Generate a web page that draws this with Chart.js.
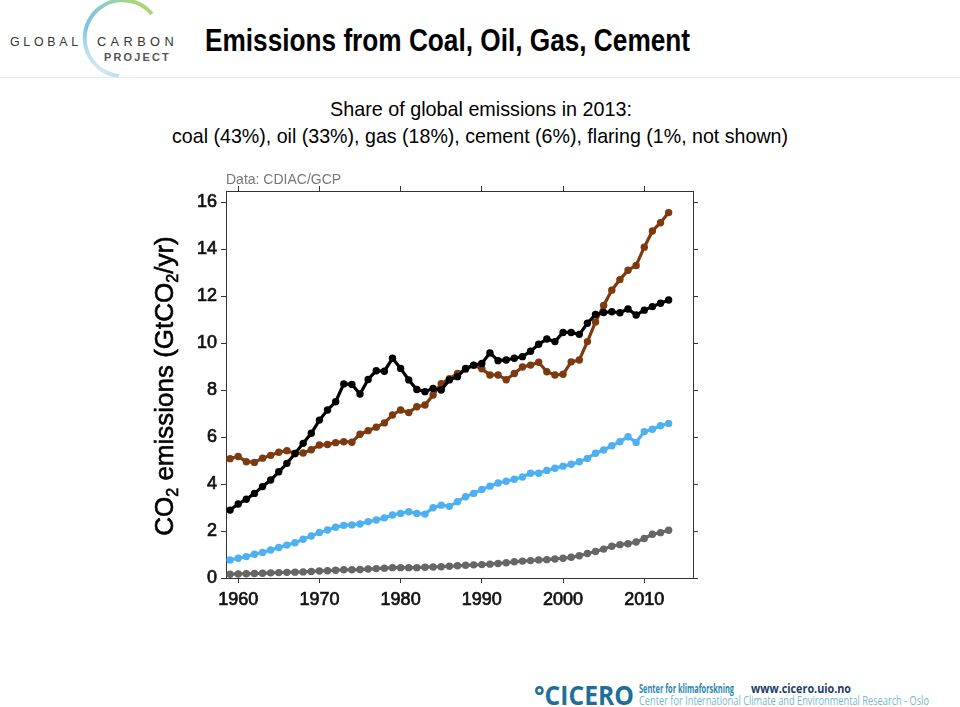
<!DOCTYPE html>
<html>
<head>
<meta charset="utf-8">
<script src="https://cdn.jsdelivr.net/npm/chart.js@4/dist/chart.umd.min.js"></script>
<style>
  html, body { margin: 0; padding: 0; background: #fff; }
  body { width: 960px; height: 707px; position: relative; overflow: hidden; font-family: "Liberation Sans", Arial, sans-serif; }
  .abs { position: absolute; white-space: nowrap; display: inline-block; transform-origin: left top; }
  #hdrLine { position: absolute; left: 0; top: 77px; width: 960px; height: 1px; background: #ececec; }
  #chartCanvas { position: absolute; left: 0; top: 150px; }
</style>
</head>
<body>

<svg class="abs" style="left:0;top:0" width="200" height="78">
  <defs>
    <linearGradient id="arcGrad" x1="1" y1="0" x2="0.3" y2="1">
      <stop offset="0" stop-color="#bcd55a"/>
      <stop offset="0.35" stop-color="#8fcfc0"/>
      <stop offset="0.7" stop-color="#7cc2e8"/>
      <stop offset="1" stop-color="#d6eaf4"/>
    </linearGradient>
  </defs>
  <path d="M152 14 A38 38 0 1 0 119 76" fill="none" stroke="url(#arcGrad)" stroke-width="4"/>
</svg>
<span class="abs" id="lgGlobal" style="left:10px;top:34px;font-size:13px;color:#333;letter-spacing:4px">GLOBAL</span>
<span class="abs" id="lgCarbon" style="left:97px;top:34px;font-size:13px;color:#333;letter-spacing:4.5px">CARBON</span>
<span class="abs" id="lgProject" style="left:104px;top:51px;font-size:11px;font-weight:bold;color:#555;letter-spacing:2.2px">PROJECT</span>

<span class="abs" id="mainTitle" style="left:205px;top:23px;font-size:31px;font-weight:bold;color:#000">Emissions from Coal, Oil, Gas, Cement</span>
<div id="hdrLine"></div>

<span class="abs" id="sub1" style="left:330px;top:97px;font-size:21px;color:#000">Share of global emissions in 2013:</span>
<span class="abs" id="sub2" style="left:172px;top:124px;font-size:21px;color:#000">coal (43%), oil (33%), gas (18%), cement (6%), flaring (1%, not shown)</span>

<canvas id="chartCanvas" width="960" height="490"></canvas>

<span class="abs" id="ftLogo" style="left:534px;top:677px;font-family:'Open Sans',sans-serif;font-size:26px;font-weight:bold;color:#1d6f98">°CICERO</span>
<span class="abs" id="ftSenter" style="left:639px;top:679px;font-family:'Open Sans',sans-serif;font-size:13px;font-weight:bold;color:#2b88b0">Senter for klimaforskning</span>
<span class="abs" id="ftWww" style="left:751px;top:679px;font-family:'Open Sans',sans-serif;font-size:13px;font-weight:bold;color:#1c3d66">www.cicero.uio.no</span>
<span class="abs" id="ftCenter" style="left:639px;top:691px;font-family:'Open Sans',sans-serif;font-size:13px;color:#74bad0">Center for International Climate and Environmental Research - Oslo</span>

<script>
// years 1959-2013, GtCO2/yr
const years = [];
for (let y = 1959; y <= 2013; y++) years.push(y);

const coal = [
  5.08, 5.17, 4.95, 4.92, 5.10, 5.22, 5.35, 5.42, 5.30, 5.32,
  5.46, 5.66, 5.68, 5.76, 5.80, 5.78, 6.12, 6.27, 6.42, 6.60,
  6.94, 7.15, 7.04, 7.29, 7.36, 7.79, 8.27, 8.48, 8.70, 8.88,
  9.05, 8.90, 8.64, 8.64, 8.44, 8.70, 8.98, 9.06, 9.18, 8.78,
  8.64, 8.67, 9.20, 9.28, 10.06, 10.90, 11.60, 12.25, 12.70, 13.10,
  13.30, 14.08, 14.77, 15.12, 15.55
];
const oil = [
  2.89, 3.15, 3.35, 3.60, 3.89, 4.17, 4.52, 4.88, 5.30, 5.73,
  6.16, 6.72, 7.15, 7.50, 8.26, 8.24, 7.83, 8.45, 8.82, 8.80,
  9.35, 8.92, 8.43, 8.02, 7.93, 8.07, 8.00, 8.43, 8.57, 8.92,
  9.06, 9.13, 9.58, 9.25, 9.28, 9.35, 9.42, 9.65, 9.95, 10.17,
  10.06, 10.45, 10.45, 10.37, 10.84, 11.22, 11.30, 11.33, 11.29, 11.45,
  11.19, 11.40, 11.55, 11.69, 11.83
];
const gas = [
  0.77, 0.84, 0.91, 1.01, 1.09, 1.19, 1.30, 1.40, 1.50, 1.65,
  1.79, 1.94, 2.04, 2.16, 2.24, 2.26, 2.30, 2.40, 2.47, 2.56,
  2.68, 2.75, 2.82, 2.75, 2.72, 2.99, 3.10, 3.05, 3.25, 3.46,
  3.60, 3.77, 3.91, 4.04, 4.12, 4.20, 4.30, 4.46, 4.46, 4.58,
  4.67, 4.76, 4.84, 4.95, 5.09, 5.31, 5.45, 5.63, 5.80, 6.01,
  5.77, 6.23, 6.33, 6.48, 6.58
];
const cement = [
  0.16, 0.17, 0.18, 0.19, 0.20, 0.22, 0.23, 0.24, 0.25, 0.26,
  0.28, 0.30, 0.31, 0.33, 0.35, 0.35, 0.36, 0.38, 0.40, 0.42,
  0.44, 0.44, 0.44, 0.44, 0.46, 0.47, 0.48, 0.50, 0.52, 0.54,
  0.56, 0.57, 0.59, 0.62, 0.65, 0.69, 0.72, 0.74, 0.77, 0.78,
  0.81, 0.84, 0.88, 0.95, 1.04, 1.13, 1.23, 1.35, 1.42, 1.46,
  1.53, 1.68, 1.86, 1.93, 2.03
];

const xTicks = [1960, 1970, 1980, 1990, 2000, 2010];
const yTicks = [0, 2, 4, 6, 8, 10, 12, 14, 16];

const X_MIN = 1958.5, X_MAX = 2016;
const Y_MIN = 0, Y_MAX = 16.47;

function fitWidth(id, w) {
  const el = document.getElementById(id);
  const cur = el.getBoundingClientRect().width;
  el.style.transform = `scaleX(${w / cur})`;
}

function pts(vals) {
  return years.map((yr, i) => ({ x: yr, y: vals[i] }));
}

function series(label, vals, color, order) {
  return {
    label: label,
    data: pts(vals),
    borderColor: color,
    backgroundColor: color,
    pointBackgroundColor: color,
    pointBorderWidth: 0,
    pointRadius: 3.7,
    borderWidth: 3.2,
    tension: 0,
    order: order
  };
}

const tickFont = { family: "'Liberation Sans', Arial, sans-serif", size: 18 };

function axisBase(pos, fixedSize, horizontal) {
  return {
    type: 'linear',
    position: pos,
    min: horizontal ? X_MIN : Y_MIN,
    max: horizontal ? X_MAX : Y_MAX,
    grid: { drawOnChartArea: false, drawTicks: true, tickLength: 5, tickColor: '#333', tickWidth: 1 },
    border: { display: true, color: '#333', width: 1 },
    afterBuildTicks: (s) => {
      s.ticks = (horizontal ? xTicks : yTicks).map(v => ({ value: v }));
    },
    afterFit: (s) => {
      if (horizontal) s.height = fixedSize; else s.width = fixedSize;
    }
  };
}

const labelTicks = {
  display: true, font: tickFont, color: '#111', autoSkip: false, maxRotation: 0,
  textStrokeWidth: 0.7, textStrokeColor: '#111',
  callback: (v) => String(v)
};

const xBottom = axisBase('bottom', 62, true);
xBottom.ticks = Object.assign({}, labelTicks, { padding: 6 });
const xTop = axisBase('top', 41, true);
xTop.ticks = { display: false };
const yLeft = axisBase('left', 226, false);
yLeft.ticks = Object.assign({}, labelTicks, { padding: 4 });
const yRight = axisBase('right', 267, false);
yRight.ticks = { display: false };

// y axis title with subscripts + data source note
const extraText = {
  id: 'extraText',
  afterDraw(chart) {
    const ctx = chart.ctx;
    ctx.save();
    ctx.fillStyle = '#777';
    ctx.font = "14px 'Liberation Sans', Arial, sans-serif";
    ctx.textBaseline = 'alphabetic';
    ctx.textAlign = 'left';
    ctx.fillText('Data: CDIAC/GCP', 226, 33.5);
    ctx.restore();

    const parts = [['CO', false], ['2', true], [' emissions (GtCO', false], ['2', true], ['/yr)', false]];
    const big = "26px 'Liberation Sans', Arial, sans-serif";
    const small = "16px 'Liberation Sans', Arial, sans-serif";
    ctx.save();
    let total = 0;
    parts.forEach(p => { ctx.font = p[1] ? small : big; total += ctx.measureText(p[0]).width; });
    ctx.translate(173, 236);
    ctx.rotate(-Math.PI / 2);
    ctx.fillStyle = '#000';
    ctx.strokeStyle = '#000';
    ctx.lineWidth = 0.6;
    ctx.textBaseline = 'alphabetic';
    ctx.textAlign = 'left';
    let x = -total / 2;
    parts.forEach(p => {
      ctx.font = p[1] ? small : big;
      ctx.fillText(p[0], x, p[1] ? 5 : 0);
      ctx.strokeText(p[0], x, p[1] ? 5 : 0);
      x += ctx.measureText(p[0]).width;
    });
    ctx.restore();
  }
};

new Chart(document.getElementById('chartCanvas'), {
  type: 'line',
  data: {
    datasets: [
      series('oil', oil, '#000000', 0),
      series('coal', coal, '#7e3a0f', 1),
      series('gas', gas, '#4cb0f2', 2),
      series('cement', cement, '#666666', 3)
    ]
  },
  options: {
    responsive: false,
    animation: false,
    devicePixelRatio: 1,
    layout: { padding: 0 },
    plugins: { legend: { display: false }, tooltip: { enabled: false } },
    scales: { x: xBottom, x2: xTop, y: yLeft, y2: yRight }
  },
  plugins: [extraText]
});

fitWidth('mainTitle', 485);
fitWidth('sub1', 302);
fitWidth('sub2', 616);
fitWidth('lgGlobal', 72);
fitWidth('lgCarbon', 81);
fitWidth('lgProject', 67);
fitWidth('ftLogo', 100);
fitWidth('ftSenter', 95);
fitWidth('ftWww', 100);
fitWidth('ftCenter', 290);
</script>
</body>
</html>
